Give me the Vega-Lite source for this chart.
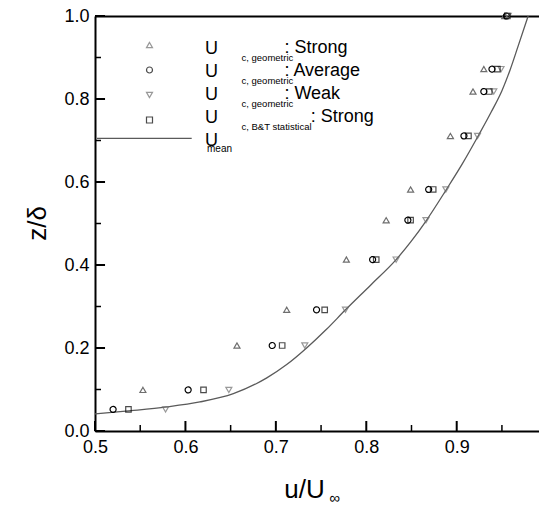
{
  "$schema": "https://vega.github.io/schema/vega-lite/v6.json",
  "width": 444,
  "height": 415,
  "autosize": {"type": "none"},
  "padding": {"left": 95, "top": 16, "right": 0, "bottom": 74},
  "background": "white",
  "config": {
    "view": {"stroke": null},
    "axis": {"grid": false, "labelFont": "Liberation Sans", "titleFont": "Liberation Sans", "labelColor": "black", "titleColor": "black", "titleFontWeight": "normal", "domainColor": "black", "tickColor": "black", "labelFlush": false},
    "legend": {"labelFont": "Liberation Sans", "labelColor": "black", "padding": 0}
  },
  "datasets": {
    "xmajor": [{"v": 0.5}, {"v": 0.6}, {"v": 0.7}, {"v": 0.8}, {"v": 0.9}],
    "xminor": [{"v": 0.55}, {"v": 0.65}, {"v": 0.75}, {"v": 0.85}, {"v": 0.95}],
    "ymajor": [{"v": 0.0}, {"v": 0.2}, {"v": 0.4}, {"v": 0.6}, {"v": 0.8}, {"v": 1.0}],
    "yminor": [{"v": 0.1}, {"v": 0.3}, {"v": 0.5}, {"v": 0.7}, {"v": 0.9}],
    "pts": [
      {"series": "Strong", "u": 0.553, "z": 0.099},
      {"series": "Strong", "u": 0.657, "z": 0.206},
      {"series": "Strong", "u": 0.712, "z": 0.292},
      {"series": "Strong", "u": 0.778, "z": 0.413},
      {"series": "Strong", "u": 0.822, "z": 0.508},
      {"series": "Strong", "u": 0.849, "z": 0.582},
      {"series": "Strong", "u": 0.893, "z": 0.711},
      {"series": "Strong", "u": 0.918, "z": 0.818},
      {"series": "Strong", "u": 0.930, "z": 0.872},
      {"series": "Strong", "u": 0.953, "z": 1.0},
      {"series": "Average", "u": 0.520, "z": 0.052},
      {"series": "Average", "u": 0.603, "z": 0.099},
      {"series": "Average", "u": 0.696, "z": 0.206},
      {"series": "Average", "u": 0.745, "z": 0.292},
      {"series": "Average", "u": 0.807, "z": 0.413},
      {"series": "Average", "u": 0.846, "z": 0.508},
      {"series": "Average", "u": 0.869, "z": 0.582},
      {"series": "Average", "u": 0.908, "z": 0.711},
      {"series": "Average", "u": 0.930, "z": 0.818},
      {"series": "Average", "u": 0.939, "z": 0.872},
      {"series": "Average", "u": 0.955, "z": 1.0},
      {"series": "Weak", "u": 0.578, "z": 0.052},
      {"series": "Weak", "u": 0.648, "z": 0.099},
      {"series": "Weak", "u": 0.732, "z": 0.206},
      {"series": "Weak", "u": 0.777, "z": 0.292},
      {"series": "Weak", "u": 0.833, "z": 0.413},
      {"series": "Weak", "u": 0.866, "z": 0.508},
      {"series": "Weak", "u": 0.888, "z": 0.582},
      {"series": "Weak", "u": 0.923, "z": 0.711},
      {"series": "Weak", "u": 0.941, "z": 0.818},
      {"series": "Weak", "u": 0.949, "z": 0.872},
      {"series": "Weak", "u": 0.957, "z": 1.0},
      {"series": "B&T Strong", "u": 0.537, "z": 0.052},
      {"series": "B&T Strong", "u": 0.620, "z": 0.099},
      {"series": "B&T Strong", "u": 0.707, "z": 0.206},
      {"series": "B&T Strong", "u": 0.754, "z": 0.292},
      {"series": "B&T Strong", "u": 0.811, "z": 0.413},
      {"series": "B&T Strong", "u": 0.849, "z": 0.508},
      {"series": "B&T Strong", "u": 0.874, "z": 0.582},
      {"series": "B&T Strong", "u": 0.913, "z": 0.711},
      {"series": "B&T Strong", "u": 0.936, "z": 0.818},
      {"series": "B&T Strong", "u": 0.945, "z": 0.872},
      {"series": "B&T Strong", "u": 0.956, "z": 1.0}
    ],
    "curve": [
      {"s": "mean", "u": 0.5, "z": 0.041},
      {"s": "mean", "u": 0.54, "z": 0.049},
      {"s": "mean", "u": 0.579, "z": 0.058},
      {"s": "mean", "u": 0.616, "z": 0.070},
      {"s": "mean", "u": 0.653, "z": 0.090},
      {"s": "mean", "u": 0.69, "z": 0.128},
      {"s": "mean", "u": 0.712, "z": 0.160},
      {"s": "mean", "u": 0.734, "z": 0.200},
      {"s": "mean", "u": 0.756, "z": 0.245},
      {"s": "mean", "u": 0.777, "z": 0.292},
      {"s": "mean", "u": 0.805, "z": 0.352},
      {"s": "mean", "u": 0.833, "z": 0.413},
      {"s": "mean", "u": 0.85, "z": 0.458},
      {"s": "mean", "u": 0.866, "z": 0.506},
      {"s": "mean", "u": 0.888, "z": 0.580},
      {"s": "mean", "u": 0.906, "z": 0.643},
      {"s": "mean", "u": 0.924, "z": 0.712},
      {"s": "mean", "u": 0.938, "z": 0.768},
      {"s": "mean", "u": 0.95, "z": 0.82},
      {"s": "mean", "u": 0.959, "z": 0.870},
      {"s": "mean", "u": 0.968, "z": 0.928},
      {"s": "mean", "u": 0.979, "z": 1.0}
    ]
  },
  "layer": [
    {
      "data": {"name": "curve"},
      "mark": {"type": "line", "interpolate": "monotone", "strokeWidth": 1.3},
      "encoding": {
        "x": {"field": "u", "type": "quantitative", "scale": {"domain": [0.5, 0.991], "nice": false, "zero": false},
          "axis": {"orient": "bottom", "values": [0.5, 0.6, 0.7, 0.8, 0.9], "format": ".1f", "ticks": false, "domainWidth": 2, "labelFontSize": 18, "labelPadding": 7, "title": "u/U", "titleFontSize": 26, "titleX": 209, "titleY": 66, "titleAlign": "center", "titleBaseline": "alphabetic"}},
        "y": {"field": "z", "type": "quantitative", "scale": {"domain": [0, 1], "nice": false, "zero": false},
          "axis": {"orient": "left", "values": [0, 0.2, 0.4, 0.6, 0.8, 1], "format": ".1f", "ticks": false, "domainWidth": 2, "labelFontSize": 18, "labelPadding": 6, "title": "z/δ", "titleFontSize": 26, "titleAngle": -90, "titleX": -50, "titleY": 207, "titleAlign": "center", "titleBaseline": "alphabetic"}},
        "color": {"field": "s", "type": "nominal", "scale": {"domain": ["mean"], "range": ["#5a5a5a"]},
          "legend": {"orient": "none", "legendX": 1.35, "legendY": 74.3, "title": null, "labelExpr": "''", "labelFontSize": 18, "symbolType": "stroke", "symbolSize": 8968, "symbolStrokeWidth": 1.2, "labelOffset": 12.65}},
        "opacity": {"field": "s", "type": "nominal", "scale": {"domain": ["mean", "-"], "range": [1, 1]},
          "legend": {"orient": "none", "legendX": 102, "legendY": 121, "title": null, "values": ["mean"], "labelExpr": "'mean'", "labelFontSize": 10, "symbolOpacity": 0, "symbolSize": 1, "symbolStrokeWidth": 0, "symbolFillColor": "transparent", "symbolStrokeColor": "transparent", "clipHeight": 23, "rowPadding": 0, "labelOffset": 0}}
      }
    },
    {
      "data": {"name": "xmajor"},
      "mark": {"type": "rule", "color": "black", "strokeWidth": 2},
      "encoding": {
        "x": {"field": "v", "type": "quantitative", "scale": {"domain": [0.5, 0.991], "nice": false, "zero": false}, "axis": null},
        "y": {"datum": 0, "type": "quantitative", "scale": {"domain": [0, 1], "nice": false, "zero": false}, "axis": null},
        "y2": {"datum": 0.0241}
      }
    },
    {
      "data": {"name": "xminor"},
      "mark": {"type": "rule", "color": "black", "strokeWidth": 1.5},
      "encoding": {
        "x": {"field": "v", "type": "quantitative", "scale": {"domain": [0.5, 0.991], "nice": false, "zero": false}, "axis": null},
        "y": {"datum": 0, "type": "quantitative", "scale": {"domain": [0, 1], "nice": false, "zero": false}, "axis": null},
        "y2": {"datum": 0.0145}
      }
    },
    {
      "data": {"name": "ymajor"},
      "mark": {"type": "rule", "color": "black", "strokeWidth": 2},
      "encoding": {
        "y": {"field": "v", "type": "quantitative", "scale": {"domain": [0, 1], "nice": false, "zero": false}, "axis": null},
        "x": {"datum": 0.5, "type": "quantitative", "scale": {"domain": [0.5, 0.991], "nice": false, "zero": false}, "axis": null},
        "x2": {"datum": 0.5111}
      }
    },
    {
      "data": {"name": "yminor"},
      "mark": {"type": "rule", "color": "black", "strokeWidth": 1.5},
      "encoding": {
        "y": {"field": "v", "type": "quantitative", "scale": {"domain": [0, 1], "nice": false, "zero": false}, "axis": null},
        "x": {"datum": 0.5, "type": "quantitative", "scale": {"domain": [0.5, 0.991], "nice": false, "zero": false}, "axis": null},
        "x2": {"datum": 0.50663}
      }
    },
    {
      "data": {"name": "pts"},
      "transform": [{"filter": "datum.series == 'Strong' || datum.series == 'Average'"}],
      "mark": {"type": "point", "filled": false, "size": 36, "strokeWidth": 1.2},
      "encoding": {
        "x": {"field": "u", "type": "quantitative", "scale": {"domain": [0.5, 0.991], "nice": false, "zero": false},
          "axis": {"orient": "top", "ticks": false, "labels": false, "domain": true, "domainWidth": 2, "title": null}},
        "y": {"field": "z", "type": "quantitative", "scale": {"domain": [0, 1], "nice": false, "zero": false}, "axis": null},
        "shape": {"field": "series", "type": "nominal", "scale": {"domain": ["Strong", "Average", "Weak", "B&T Strong"], "range": ["triangle-up", "circle", "triangle-down", "square"]},
          "legend": {"orient": "none", "legendX": 45.5, "legendY": 16.9, "title": null, "labelExpr": "''", "labelFontSize": 18, "symbolSize": 36, "symbolStrokeWidth": 1.2, "symbolFillColor": "transparent", "clipHeight": 24.2, "rowPadding": 0, "labelOffset": 0}},
        "stroke": {"field": "series", "type": "nominal", "scale": {"domain": ["Strong", "Average", "Weak", "B&T Strong"], "range": ["#6e6e6e", "#000000", "#6e6e6e", "#000000"]},
          "legend": {"orient": "none", "legendX": 45.5, "legendY": 16.9, "title": null, "labelExpr": "''", "labelFontSize": 18, "symbolSize": 36, "symbolStrokeWidth": 1.2, "symbolFillColor": "transparent", "clipHeight": 24.2, "rowPadding": 0, "labelOffset": 0}},
        "opacity": {"field": "series", "type": "nominal", "scale": {"domain": ["Strong", "Average", "Weak", "B&T Strong", "mean"], "range": [1, 1, 1, 1, 1]},
          "legend": {"orient": "none", "legendX": 92, "legendY": 21, "title": null, "labelExpr": "'U'", "labelFontSize": 18, "symbolOpacity": 0, "symbolSize": 1, "symbolStrokeWidth": 0, "symbolFillColor": "transparent", "symbolStrokeColor": "transparent", "clipHeight": 23, "rowPadding": 0, "labelOffset": 0}},
        "fill": {"field": "series", "type": "nominal", "scale": {"domain": ["Strong", "Average", "Weak", "B&T Strong", "~"], "range": ["transparent", "transparent", "transparent", "transparent", "transparent"]},
          "legend": {"orient": "none", "legendX": 137, "legendY": 30.2, "title": null, "values": ["Strong", "Average", "Weak", "B&T Strong"], "labelExpr": "datum.value == 'B&T Strong' ? 'c, B&T statistical' : 'c, geometric'", "labelFontSize": 9.5, "symbolOpacity": 0, "symbolSize": 1, "symbolStrokeWidth": 0, "clipHeight": 23, "rowPadding": 0, "labelOffset": 0}},
        "strokeDash": {"field": "series", "type": "nominal", "scale": {"domain": ["Strong", "Average", "Weak", "-"], "range": [[1, 0], [1, 0], [1, 0], [1, 0]]},
          "legend": {"orient": "none", "legendX": 171.4, "legendY": 20, "title": null, "values": ["Strong", "Average", "Weak"], "labelExpr": "': ' + datum.value", "labelFontSize": 18, "symbolOpacity": 0, "symbolSize": 1, "symbolStrokeWidth": 0, "clipHeight": 23, "rowPadding": 0, "labelOffset": 0}}
      }
    },
    {
      "data": {"name": "pts"},
      "transform": [{"filter": "datum.series == 'Weak'"}],
      "mark": {"type": "point", "filled": false, "size": 36, "strokeWidth": 1.2},
      "encoding": {
        "x": {"field": "u", "type": "quantitative", "scale": {"domain": [0.5, 0.991], "nice": false, "zero": false}, "axis": null},
        "y": {"field": "z", "type": "quantitative", "scale": {"domain": [0, 1], "nice": false, "zero": false}, "axis": null},
        "shape": {"field": "series", "type": "nominal", "scale": {"domain": ["Strong", "Average", "Weak", "B&T Strong"], "range": ["triangle-up", "circle", "triangle-down", "square"]},
          "legend": {"orient": "none", "legendX": 45.5, "legendY": 16.9, "title": null, "labelExpr": "''", "labelFontSize": 18, "symbolSize": 36, "symbolStrokeWidth": 1.2, "symbolFillColor": "transparent", "clipHeight": 24.2, "rowPadding": 0, "labelOffset": 0}},
        "stroke": {"field": "series", "type": "nominal", "scale": {"domain": ["Strong", "Average", "Weak", "B&T Strong"], "range": ["#6e6e6e", "#000000", "#6e6e6e", "#000000"]},
          "legend": {"orient": "none", "legendX": 45.5, "legendY": 16.9, "title": null, "labelExpr": "''", "labelFontSize": 18, "symbolSize": 36, "symbolStrokeWidth": 1.2, "symbolFillColor": "transparent", "clipHeight": 24.2, "rowPadding": 0, "labelOffset": 0}}
      }
    },
    {
      "data": {"name": "pts"},
      "transform": [{"filter": "datum.series == 'B&T Strong'"}],
      "mark": {"type": "point", "filled": false, "size": 30, "strokeWidth": 1.2},
      "encoding": {
        "x": {"field": "u", "type": "quantitative", "scale": {"domain": [0.5, 0.991], "nice": false, "zero": false},
          "axis": {"orient": "bottom", "ticks": false, "domain": false, "labels": false, "grid": false, "title": "∞", "titleFontSize": 15, "titleX": 239, "titleY": 66, "titleAlign": "center", "titleBaseline": "middle"}},
        "y": {"field": "z", "type": "quantitative", "scale": {"domain": [0, 1], "nice": false, "zero": false}, "axis": null},
        "shape": {"field": "series", "type": "nominal", "scale": {"domain": ["Strong", "Average", "Weak", "B&T Strong"], "range": ["triangle-up", "circle", "triangle-down", "square"]},
          "legend": {"orient": "none", "legendX": 45.5, "legendY": 16.9, "title": null, "labelExpr": "''", "labelFontSize": 18, "symbolSize": 36, "symbolStrokeWidth": 1.2, "symbolFillColor": "transparent", "clipHeight": 24.2, "rowPadding": 0, "labelOffset": 0}},
        "stroke": {"field": "series", "type": "nominal", "scale": {"domain": ["Strong", "Average", "Weak", "B&T Strong"], "range": ["#6e6e6e", "#000000", "#6e6e6e", "#000000"]},
          "legend": {"orient": "none", "legendX": 45.5, "legendY": 16.9, "title": null, "labelExpr": "''", "labelFontSize": 18, "symbolSize": 36, "symbolStrokeWidth": 1.2, "symbolFillColor": "transparent", "clipHeight": 24.2, "rowPadding": 0, "labelOffset": 0}},
        "strokeDash": {"field": "series", "type": "nominal", "scale": {"domain": ["B&T Strong", "-"], "range": [[1, 0], [1, 0]]},
          "legend": {"orient": "none", "legendX": 197.7, "legendY": 89, "title": null, "values": ["B&T Strong"], "labelExpr": "': Strong'", "labelFontSize": 18, "symbolOpacity": 0, "symbolSize": 1, "symbolStrokeWidth": 0, "clipHeight": 23, "rowPadding": 0, "labelOffset": 0}}
      }
    }
  ],
  "resolve": {
    "scale": {"opacity": "independent", "strokeDash": "independent", "fill": "independent"},
    "axis": {"x": "independent", "y": "independent"}
  }
}
